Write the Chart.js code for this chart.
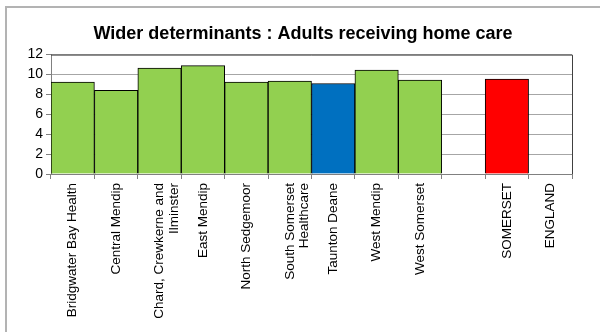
<!DOCTYPE html>
<html>
<head>
<meta charset="utf-8">
<script src="https://cdn.jsdelivr.net/npm/chart.js@4"></script>
<style>
  html, body { margin: 0; padding: 0; background: #fff; }
  #wrap { position: relative; width: 600px; height: 332px; }
</style>
</head>
<body>
<div id="wrap"><canvas id="chart" width="600" height="332"></canvas></div>
<script>
// dados
const areas = [
  'Bridgwater Bay Health', 'Central Mendip', ['Chard, Crewkerne and', 'Ilminster'],
  'East Mendip', 'North Sedgemoor', ['South Somerset', 'Healthcare'], 'Taunton Deane',
  'West Mendip', 'West Somerset', '', 'SOMERSET', 'ENGLAND'
];
const valores = [9.25, 8.4, 10.65, 10.9, 9.25, 9.35, 9.1, 10.45, 9.45, null, 9.55, null];
const cores = [
  '#92d050', '#92d050', '#92d050', '#92d050', '#92d050', '#92d050', '#0070c0',
  '#92d050', '#92d050', '#92d050', '#ff0000', '#92d050'
];
const yTicks = [0, 2, 4, 6, 8, 10, 12];

const fonte = 'Liberation Sans, Arial, sans-serif';

// moldura externa + borda da área do gráfico
const molduraPlugin = {
  id: 'moldura',
  beforeDraw(chart) {
    const ctx = chart.ctx;
    ctx.save();
    ctx.strokeStyle = '#b3b3b3';
    ctx.lineWidth = 2;
    ctx.beginPath();
    ctx.moveTo(6, 340);
    ctx.lineTo(6, 7);
    ctx.lineTo(610, 7);
    ctx.stroke();
    ctx.restore();
  },
  afterDraw(chart) {
    const { left, right, top, bottom } = chart.chartArea;
    const ctx = chart.ctx;
    ctx.save();
    ctx.strokeStyle = '#404040';
    ctx.lineWidth = 1;
    ctx.beginPath();
    ctx.moveTo(left, top + 0.5);
    ctx.lineTo(right + 0.5, top + 0.5);
    ctx.lineTo(right + 0.5, bottom);
    ctx.stroke();
    ctx.restore();
  }
};

new Chart(document.getElementById('chart'), {
  type: 'bar',
  data: {
    labels: areas,
    datasets: [{
      data: valores,
      backgroundColor: cores,
      borderColor: '#000',
      borderWidth: 1,
      barPercentage: 1,
      categoryPercentage: 1
    }]
  },
  options: {
    responsive: false,
    animation: false,
    layout: { padding: { left: 6, right: 0, top: 15, bottom: 0 } },
    plugins: {
      legend: { display: false },
      tooltip: { enabled: false },
      title: {
        display: true,
        text: 'Wider determinants : Adults receiving home care',
        color: '#000',
        font: { family: fonte, size: 18, weight: 'bold' },
        padding: { top: 8, bottom: 10 }
      }
    },
    scales: {
      y: {
        min: 0, max: 12,
        afterFit: s => { s.width = 45; },
        afterBuildTicks: s => { s.ticks = yTicks.map(v => ({ value: v })); },
        ticks: { color: '#000', font: { family: fonte, size: 14 }, padding: 3 },
        grid: { color: '#a6a6a6', tickLength: 5, tickColor: '#808080' },
        border: { color: '#808080' }
      },
      // eixo vazio só para reservar espaço à direita
      y2: {
        position: 'right',
        min: 0, max: 12,
        afterFit: s => { s.width = 28; },
        ticks: { display: false },
        grid: { display: false, drawOnChartArea: false },
        border: { display: false }
      },
      x: {
        afterFit: s => { s.height = 158; },
        ticks: {
          color: '#000', font: { family: fonte, size: 13.5, lineHeight: 1.1 },
          minRotation: 90, maxRotation: 90, autoSkip: false, padding: 4
        },
        grid: { offset: true, drawOnChartArea: false, tickLength: 5, color: '#808080' },
        border: { color: '#808080' }
      }
    }
  },
  plugins: [molduraPlugin]
});
</script>
</body>
</html>
